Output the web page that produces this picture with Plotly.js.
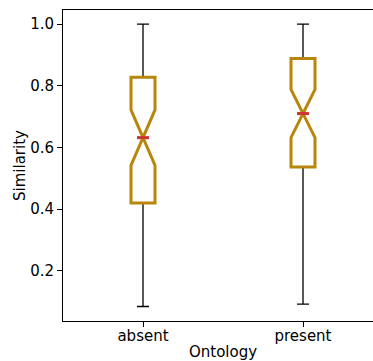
<!DOCTYPE html>
<html>
<head>
<meta charset="utf-8">
<script src="https://cdn.plot.ly/plotly-3.0.1.min.js"></script>
<style>
  html, body { margin: 0; padding: 0; overflow: hidden; background: #fff; }
  #chart { width: 383px; height: 361px; }
</style>
</head>
<body>
<div id="chart"></div>
<script>
// Data
const categories = ['absent', 'present'];
const positions = [0, 1];
const q1 = [0.420, 0.537];
const median = [0.632, 0.710];
const q3 = [0.828, 0.889];
const lowerWhisker = [0.084, 0.092];
const upperWhisker = [1.0, 1.0];
const notchHalfSpan = [0.090, 0.078];
const yTicks = [0.2, 0.4, 0.6, 0.8, 1.0];

// Styles
const boxWidth = 0.15;
const notchWidth = 0.5;
const gold = '#B8860B';
const red = '#CC3333';
const font = { family: 'DejaVu Sans, sans-serif', size: 15, color: '#000' };

// Trace 1: full box incl. whiskers in black (thin)
const whiskerTrace = {
  type: 'box',
  x: positions,
  q1: q1, median: median, q3: q3,
  lowerfence: lowerWhisker, upperfence: upperWhisker,
  notched: true, notchspan: notchHalfSpan, notchwidth: notchWidth,
  width: boxWidth, whiskerwidth: 0.5,
  line: { color: '#000', width: 1.3 },
  fillcolor: 'rgba(255,255,255,1)',
  boxpoints: false, hoverinfo: 'skip', showlegend: false
};

// Trace 2: box outline in gold, whiskers collapsed
const boxTrace = {
  type: 'box',
  x: positions,
  q1: q1, median: median, q3: q3,
  lowerfence: q1, upperfence: q3,
  notched: true, notchspan: notchHalfSpan, notchwidth: notchWidth,
  width: boxWidth, whiskerwidth: 0,
  line: { color: gold, width: 3 },
  fillcolor: 'rgba(255,255,255,1)',
  boxpoints: false, hoverinfo: 'skip', showlegend: false
};

// Median lines in red
const hw = boxWidth * (1 - notchWidth) / 2;
const mx = [], my = [];
positions.forEach((p, i) => {
  mx.push(p - hw, p + hw, null);
  my.push(median[i], median[i], null);
});
const medianTrace = {
  type: 'scatter', mode: 'lines', x: mx, y: my,
  line: { color: red, width: 3 },
  hoverinfo: 'skip', showlegend: false
};

const layout = {
  width: 383, height: 361,
  margin: { l: 63, r: 0, t: 10, b: 40 },
  paper_bgcolor: '#fff', plot_bgcolor: '#fff',
  font: font,
  showlegend: false,
  boxmode: 'overlay',
  xaxis: {
    range: [-0.5, 1.5],
    tickvals: positions, ticktext: categories,
    ticks: 'outside', ticklen: 5, tickwidth: 1, tickcolor: '#000',
    ticklabelstandoff: -4,
    showline: true, linecolor: '#000', linewidth: 1, mirror: true,
    showgrid: false, zeroline: false,
    tickfont: font,
    title: { text: 'Ontology', font: font, standoff: 2 }
  },
  yaxis: {
    range: [0.037, 1.046],
    tickvals: yTicks, ticktext: yTicks.map(v => v.toFixed(1)),
    ticks: 'outside', ticklen: 5, tickwidth: 1, tickcolor: '#000',
    showline: true, linecolor: '#000', linewidth: 1, mirror: true,
    showgrid: false, zeroline: false,
    tickfont: font,
    title: { text: 'Similarity', font: font, standoff: 0 }
  }
};

Plotly.newPlot('chart', [whiskerTrace, boxTrace, medianTrace], layout, { staticPlot: true, displayModeBar: false });
</script>
</body>
</html>
